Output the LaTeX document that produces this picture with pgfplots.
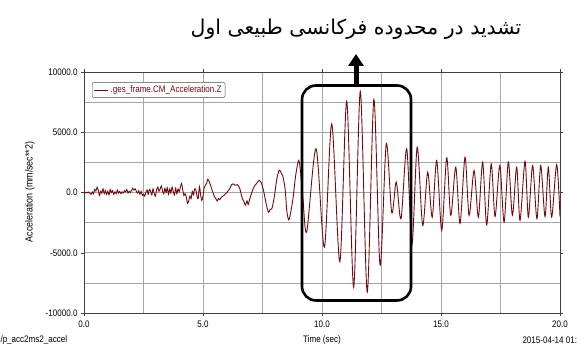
\documentclass[border=0pt]{standalone}
\usepackage{fontspec}
\setmainfont{Liberation Sans}
\newfontfamily\narrowfont[FakeStretch=0.85]{Liberation Sans}
\newfontfamily\arabicfont[Script=Arabic]{DejaVu Sans}
\usepackage{pgfplots}
\usepackage{pgfplotstable}
\pgfplotsset{compat=1.18}
\usetikzlibrary{arrows.meta}
\TeXXeTstate=1
\definecolor{sig}{RGB}{115,10,15}

\pgfplotstableread{
t v
0.00 0
0.05 -50
0.10 30
0.15 -20
0.20 40
0.25 -80
0.30 -150
0.35 50
0.40 -100
0.45 250
0.50 120
0.55 440
0.60 200
0.65 -250
0.70 100
0.75 -50
0.80 300
0.85 -100
0.90 150
0.95 -150
1.00 100
1.05 -200
1.10 250
1.15 0
1.20 150
1.25 -150
1.30 50
1.35 -100
1.40 200
1.45 -50
1.50 100
1.55 -100
1.60 50
1.65 -50
1.70 150
1.75 50
1.80 250
1.85 -50
1.90 100
1.95 0
2.00 150
2.05 350
2.10 200
2.15 300
2.20 100
2.25 -50
2.30 150
2.35 -150
2.40 100
2.45 -250
2.50 -150
2.55 -300
2.60 0
2.65 200
2.70 -150
2.75 250
2.80 100
2.85 -200
2.90 300
2.95 -100
3.00 -300
3.05 200
3.10 450
3.15 100
3.20 300
3.25 550
3.30 150
3.35 -100
3.40 350
3.45 0
3.50 400
3.55 -150
3.60 300
3.65 -50
3.70 450
3.75 100
3.80 -200
3.85 350
3.90 -100
3.95 300
4.00 50
4.05 450
4.10 750
4.15 200
4.20 -250
4.25 -100
4.30 -400
4.35 -900
4.40 -700
4.45 -300
4.50 -500
4.55 100
4.60 -200
4.65 300
4.70 200
4.75 -300
4.80 -500
4.85 500
4.90 -200
4.95 -650
5.00 -300
5.05 400
5.10 600
5.15 750
5.20 1100
5.25 950
5.30 700
5.35 400
5.40 100
5.45 -200
5.50 -400
5.55 -550
5.60 -700
5.65 -500
5.70 -600
5.75 -450
5.80 -350
5.90 -200
6.00 0
6.10 250
6.20 650
6.27 720
6.35 600
6.45 650
6.55 300
6.65 -500
6.72 -750
6.78 -1050
6.85 -700
6.90 -1000
6.97 -500
7.05 0
7.15 500
7.25 750
7.35 1000
7.45 800
7.55 100
7.65 -900
7.75 -1650
7.82 -1400
7.90 -1300
8.00 -300
8.10 1100
8.20 1850
8.28 1650
8.35 1400
8.45 300
8.52 -1500
8.60 -2270
8.68 -1700
8.78 -500
8.90 1500
9.02 2660
9.10 1700
9.20 -500
9.36 -3250
9.75 3630
10.10 -4540
10.41 5700
10.75 -5750
11.04 7580
11.33 -7860
11.61 8410
11.90 -8270
12.18 7720
12.44 -6030
12.70 4040
12.93 -1680
13.12 860
13.32 -2180
13.56 3630
13.78 -4300
14.00 3760
14.23 -2740
14.44 1690
14.63 -2050
14.82 2660
15.03 -3150
15.24 2880
15.41 -1900
15.62 2100
15.80 -2570
16.01 2930
16.18 -1900
16.39 1830
16.57 -2050
16.75 2520
16.92 -2680
17.11 2380
17.27 -2000
17.47 2240
17.65 -2460
17.83 2520
18.00 -1900
18.18 2100
18.32 -2320
18.53 2600
18.67 -2050
18.85 2240
19.03 -2180
19.19 2240
19.37 -2000
19.51 2100
19.65 -2050
19.86 2320
20.00 -2000
}\accdata

\begin{document}
\begin{tikzpicture}
\path[use as bounding box] (0,0) rectangle (584bp,357bp);
\begin{axis}[
  at={(84bp,44bp)}, anchor=south west,
  scale only axis, width=476bp, height=241bp,
  xmin=0, xmax=20, ymin=-10000, ymax=10000,
  xtick={0,5,10,15,20},
  minor xtick={2.5,7.5,12.5,17.5},
  ytick={-10000,-5000,0,5000,10000},
  minor ytick={-7500,-2500,2500,7500},
  grid=both,
  major grid style={gray!70, line width=0.7bp},
  minor grid style={gray!70, line width=0.7bp},
  axis line style={black!75, line width=0.8bp},
  tick align=outside,
  major tick length=3bp,
  minor tick length=0bp,
  tick style={black!75},
  scaled ticks=false,
  /pgf/number format/assume math mode=true,
  /pgf/number format/.cd, fixed, fixed zerofill, precision=1, 1000 sep={},
  /pgfplots/.cd,
  ticklabel style={font=\narrowfont\fontsize{9.5}{10}\selectfont},
  xticklabel style={yshift=-1bp},
  legend style={at={(0.017,0.958)}, anchor=north west, draw=black!70,
    rounded corners=2bp, font=\narrowfont\fontsize{9.5}{10}\selectfont,
    text=sig, inner sep=1.5bp},
  legend cell align=left,
  legend image code/.code={\draw[#1] (0bp,0bp) -- (14bp,0bp);},
]
\addplot[sig, line width=0.9bp, smooth, tension=0.5] table[x=t, y=v] {\accdata};
\addlegendentry{.ges\_frame.CM\_Acceleration.Z}
\draw[line width=2.6bp, rounded corners=14bp] (axis cs:9.16,8880) rectangle (axis cs:13.74,-8960);
\end{axis}
\draw[line width=5bp, -{Triangle[width=15bp,length=12bp]}] (356bp,272bp) -- (356bp,303bp);
\node[font=\arabicfont\fontsize{20.5}{24}\selectfont] at (356bp,328bp) {\beginR تشدید در محدوده فرکانسی طبیعی اول\endR};
\node[font=\narrowfont\fontsize{10.5}{12}\selectfont, rotate=90] at (30bp,165bp) {Acceleration (mm/sec**2)};
\node[font=\narrowfont\fontsize{9.5}{11}\selectfont] at (322bp,17bp) {Time (sec)};
\node[font=\narrowfont\fontsize{9.5}{11}\selectfont, anchor=west] at (-3bp,17bp) {/p\_acc2ms2\_accel};
\node[font=\narrowfont\fontsize{9.5}{11}\selectfont, anchor=west] at (519bp,17bp) {2015-04-14 01:};
\end{tikzpicture}
\end{document}
